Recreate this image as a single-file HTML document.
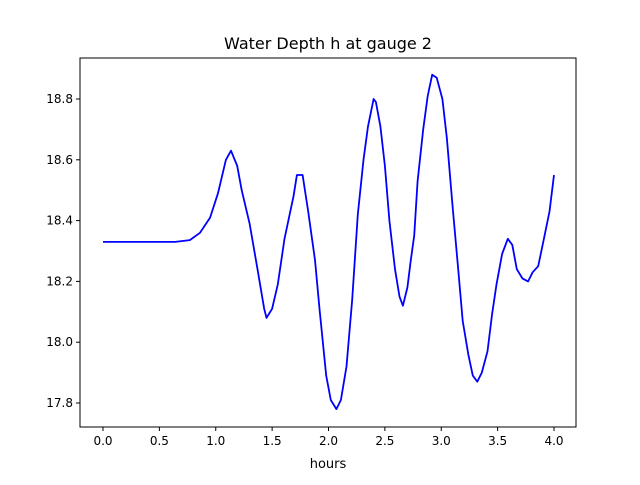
<!DOCTYPE html>
<html><head><meta charset="utf-8"><style>
body{margin:0;background:#fff;}
svg text{font-family:"DejaVu Sans","Liberation Sans",sans-serif;}
</style></head><body>
<svg id="chart" width="640" height="480" xmlns="http://www.w3.org/2000/svg">
<rect width="640" height="480" fill="#fff"/>
<text x="328" y="49" font-size="16" text-anchor="middle">Water Depth h at gauge 2</text>
<text x="328" y="468" font-size="13" text-anchor="middle">hours</text>
<g id="plot"></g>
</svg>
<script>
const hours=[0,0.3,0.64,0.77,0.86,0.95,1.02,1.09,1.135,1.19,1.23,1.30,1.37,1.43,1.45,1.50,1.55,1.61,1.69,1.72,1.77,1.82,1.88,1.92,1.98,2.02,2.07,2.11,2.16,2.21,2.26,2.31,2.35,2.40,2.42,2.46,2.50,2.54,2.59,2.63,2.66,2.70,2.73,2.76,2.79,2.84,2.88,2.92,2.96,3.01,3.05,3.10,3.15,3.19,3.24,3.28,3.32,3.36,3.41,3.45,3.49,3.54,3.59,3.63,3.67,3.72,3.77,3.81,3.86,3.91,3.96,4.0];
const depth=[18.33,18.33,18.33,18.336,18.36,18.41,18.49,18.60,18.63,18.58,18.50,18.39,18.24,18.11,18.08,18.11,18.19,18.34,18.48,18.55,18.55,18.43,18.27,18.11,17.89,17.81,17.78,17.81,17.92,18.14,18.42,18.60,18.71,18.80,18.79,18.71,18.58,18.40,18.24,18.15,18.12,18.18,18.27,18.35,18.53,18.70,18.81,18.88,18.87,18.80,18.67,18.45,18.24,18.07,17.96,17.89,17.87,17.90,17.97,18.09,18.19,18.29,18.34,18.32,18.24,18.21,18.20,18.23,18.25,18.34,18.43,18.55];
const xTicks=[0,0.5,1,1.5,2,2.5,3,3.5,4];
const xTickLabels=["0.0","0.5","1.0","1.5","2.0","2.5","3.0","3.5","4.0"];
const yTicks=[17.8,18.0,18.2,18.4,18.6,18.8];
const yTickLabels=["17.8","18.0","18.2","18.4","18.6","18.8"];

const L=80,R=576,T=58,B=427;
const xs=v=>103+v*112.75;
const ys=v=>99+(18.8-v)*304;
const NS="http://www.w3.org/2000/svg";
const g=document.getElementById('plot');
function mk(tag,attrs){const e=document.createElementNS(NS,tag);for(const k in attrs)e.setAttribute(k,attrs[k]);g.appendChild(e);return e;}

const pts=hours.map((h,i)=>xs(h).toFixed(1)+","+ys(depth[i]).toFixed(1)).join(" ");
const line=mk('polyline',{points:pts,fill:'none',stroke:'#0000ff','stroke-width':1.8,'stroke-linejoin':'round'});



const frame=mk('rect',{x:L,y:T,width:R-L,height:B-T,fill:'none',stroke:'#000','stroke-width':1});



xTicks.forEach((v,i)=>{
  const x=xs(v);
  const t=mk('line',{x1:x,x2:x,y1:B,y2:B+4,stroke:'#000'});
  
  
  const l=mk('text',{x:x,y:B+18,'font-size':12,'text-anchor':'middle'});
  l.textContent=xTickLabels[i];
  
  
});
yTicks.forEach((v,i)=>{
  const y=ys(v);
  const t=mk('line',{x1:L-4,x2:L,y1:y,y2:y,stroke:'#000'});
  
  
  const l=mk('text',{x:L-7,y:y+4,'font-size':12,'text-anchor':'end'});
  l.textContent=yTickLabels[i];
  
  
});
</script>
</body></html>
